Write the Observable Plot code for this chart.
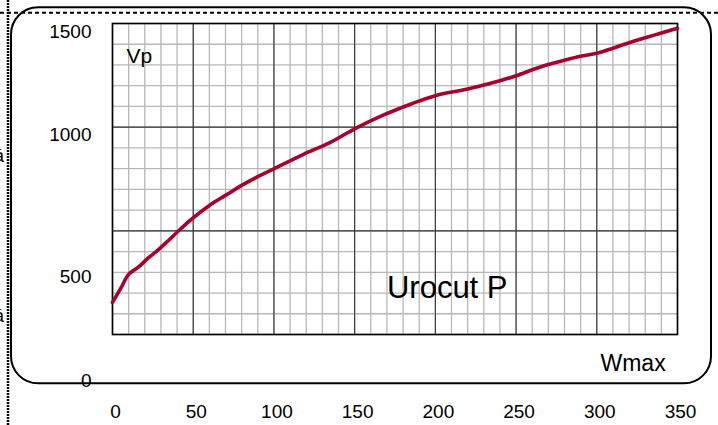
<!DOCTYPE html>
<html><head><meta charset="utf-8">
<script src="https://cdn.jsdelivr.net/npm/d3@7"></script>
<script src="https://cdn.jsdelivr.net/npm/@observablehq/plot@0.6"></script>
<style>body{margin:0;background:#fff;} svg{display:block}</style>
</head><body><div id="chart"></div>
<script>
const wmax = [0,5,10,16,22,29,35,40,49,60,70,80,90,100,118,135,150,168,185,200,220,240,250,260,265,270,280,290,300,310,320,330,340,350];
const vp   = [155,221,290,325,368,413,456,493,556,622,671,719,761,799,868,927,992,1059,1112,1152,1184,1224,1248,1277,1290,1302,1323,1342,1356,1381,1407,1431,1454,1477];
const xTicks = [0,50,100,150,200,250,300,350];
const yTicks = [0,500,1000,1500];
const xMinor = d3.range(0,351,10);
const yMinor = d3.range(0,1501,100);
const labels = ["Vp","Urocut P","Wmax"];

const data = wmax.map((w,i)=>({w, v: vp[i]}));
const font = "'Liberation Sans', Arial, sans-serif";
const fmt = d => String(d);

const plot = Plot.plot({
  width: 718, height: 425,
  marginLeft: 112, marginRight: 41, marginTop: 23, marginBottom: 91,
  x: {domain:[0,350], axis:null},
  y: {domain:[0,1500], axis:null},
  style: {fontFamily: font, fontSize: "19px", background: "#fff", color: "#000", overflow: "visible"},
  marks: [
    Plot.ruleX(xMinor, {stroke:"#b8b8b8", strokeWidth:1.3, strokeOpacity:1}),
    Plot.ruleY(yMinor, {stroke:"#b8b8b8", strokeWidth:1.3, strokeOpacity:1}),
    Plot.ruleX(xTicks, {stroke:"#333", strokeWidth:1.1, strokeOpacity:1}),
    Plot.ruleY(yTicks, {stroke:"#333", strokeWidth:1.1, strokeOpacity:1}),
    Plot.frame({stroke:"#000", strokeWidth:1.6}),
    Plot.line(data, {x:"w", y:"v", stroke:"#a8002d", strokeWidth:3.6, curve:"catmull-rom"}),
    Plot.axisY(yTicks.filter(d=>d>=1000), {tickSize:0, tickPadding:21, dy:8, fontSize:19, tickFormat:fmt, label:null}),
    Plot.axisY(yTicks.filter(d=>d<1000), {tickSize:0, tickPadding:21, dy:46, fontSize:19, tickFormat:fmt, label:null}),
    Plot.axisX(xTicks, {tickSize:0, tickPadding:70, dx:3, fontSize:19, tickFormat:fmt, label:null}),
    Plot.text([labels[0]], {x:8.7, y:1340, text:d=>d, textAnchor:"start", fontSize:21}),
    Plot.text([labels[1]], {x:170, y:223, text:d=>d, textAnchor:"start", fontSize:31}),
    Plot.text([labels[2]], {x:302.3, y:-140, text:d=>d, textAnchor:"start", fontSize:23})
  ]
});
document.getElementById("chart").appendChild(plot);

const svg = d3.select(plot);
svg.append("rect").attr("x",11).attr("y",7.3).attr("width",700).attr("height",376)
  .attr("rx",27).attr("ry",27).attr("fill","none").attr("stroke","#000").attr("stroke-width",2);
svg.append("line").attr("x1",0).attr("x2",718).attr("y1",12.7).attr("y2",12.7)
  .attr("stroke","#000").attr("stroke-width",2).attr("stroke-dasharray","4,3");
svg.append("line").attr("x1",8).attr("x2",8).attr("y1",0).attr("y2",425)
  .attr("stroke","#000").attr("stroke-width",2.5).attr("stroke-dasharray","2,1");
svg.append("text").attr("x",4).attr("y",162).attr("text-anchor","end").attr("font-size",18).attr("font-family",font).text("á");
svg.append("text").attr("x",4).attr("y",322).attr("text-anchor","end").attr("font-size",18).attr("font-family",font).text("á");
</script></body></html>
